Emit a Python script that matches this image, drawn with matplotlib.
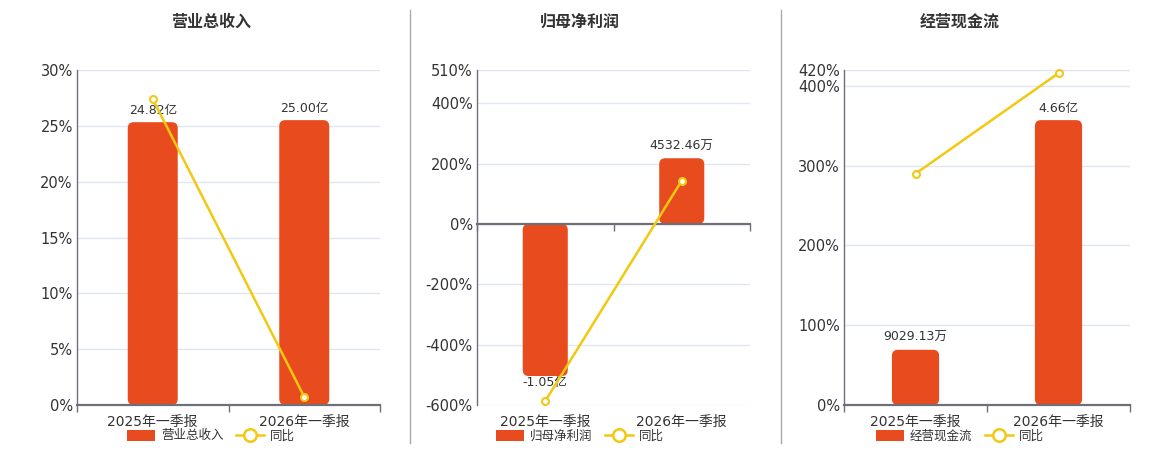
import numpy as np
import matplotlib.pyplot as plt
from matplotlib.patches import FancyBboxPatch, Patch
from matplotlib.lines import Line2D

plt.rcParams['font.family'] = ['DejaVu Sans', 'Noto Sans CJK SC']

categories = ['2025年一季报', '2026年一季报']

titles = ['营业总收入', '归母净利润', '经营现金流']

# 金额 (亿) 与 同比 (%)
revenue = [24.82, 25.00]
revenue_labels = ['24.82亿', '25.00亿']
revenue_yoy = [27.4, 0.73]

profit = [-1.05, 0.453246]
profit_labels = ['-1.05亿', '4532.46万']
profit_yoy = [-587, 143.2]

cashflow = [0.902913, 4.66]
cashflow_labels = ['9029.13万', '4.66亿']
cashflow_yoy = [290, 416]

pct_ticks = [
    [0, 5, 10, 15, 20, 25, 30],
    [-600, -400, -200, 0, 200, 400, 510],
    [0, 100, 200, 300, 400, 420],
]
pct_lims = [(0, 30), (-600, 510), (0, 420)]
amt_lims = [(0, 29.4), (-1.25, 1.0625), (0, 5.48)]

BAR = '#E84C1E'
LINE = '#F2C811'
AXIS = '#6E7079'
GRID = '#E0E6F1'
TXT = '#333333'

W, H = 1160, 450
fig = plt.figure(figsize=(W / 100, H / 100), dpi=100)

boxes = [(77, 303), (477, 273), (844, 286)]
centers = [211, 580, 960]

series = [
    (revenue, revenue_labels, revenue_yoy),
    (profit, profit_labels, profit_yoy),
    (cashflow, cashflow_labels, cashflow_yoy),
]

x = np.arange(len(categories))

for i, (left, width) in enumerate(boxes):
    vals, labs, yoy = series[i]
    rect = [left / W, 1 - 405 / H, width / W, 335 / H]
    ax = fig.add_axes(rect)
    ax2 = fig.add_axes(rect)
    ax2.patch.set_visible(False)

    ax.set_xlim(-0.5, 1.5)
    ax2.set_xlim(-0.5, 1.5)
    ax.set_ylim(*pct_lims[i])
    ax2.set_ylim(*amt_lims[i])

    ax.set_yticks(pct_ticks[i])
    ax.set_yticklabels(['%d%%' % t for t in pct_ticks[i]])
    ax.tick_params(axis='y', length=0, labelsize=10.5, labelcolor=TXT, pad=3)
    ax.grid(axis='y', color=GRID, lw=1)
    ax.set_axisbelow(True)
    ax.set_xticks(x)
    ax.set_xticklabels(categories)
    ax.tick_params(axis='x', length=0, labelsize=10, labelcolor=TXT, pad=7)
    for s in ['top', 'right', 'bottom']:
        ax.spines[s].set_visible(False)
    ax.spines['left'].set_color(AXIS)
    ax.spines['left'].set_linewidth(1)

    # bottom axis line at zero on the amount axis
    for s in ['top', 'right', 'left']:
        ax2.spines[s].set_visible(False)
    ax2.spines['bottom'].set_position(('data', 0))
    ax2.spines['bottom'].set_color(AXIS)
    ax2.spines['bottom'].set_linewidth(1.6)
    ax2.set_yticks([])
    ax2.set_xticks([-0.5, 0.5, 1.5])
    ax2.tick_params(axis='x', length=5, width=1, color=AXIS, labelbottom=False)

    bars = ax2.bar(x, vals, width=0.33, color=BAR)
    fig.canvas.draw()
    px = ax2.transData.transform([[0, 0], [1, 1]])
    dx = 1 / (px[1, 0] - px[0, 0])
    dy = 1 / (px[1, 1] - px[0, 1])
    for r in bars:
        r.set_visible(False)
        y0 = min(r.get_y(), r.get_y() + r.get_height())
        fb = FancyBboxPatch((r.get_x(), y0), r.get_width(), abs(r.get_height()),
                            boxstyle='round,pad=0,rounding_size=%f' % (6 * dx),
                            mutation_aspect=dy / dx, fc=BAR, ec='none', zorder=2)
        ax2.add_patch(fb)

    for xi, v, lab in zip(x, vals, labs):
        if v >= 0:
            ax2.annotate(lab, (xi, v), xytext=(0, 4), textcoords='offset points',
                         ha='center', va='bottom', fontsize=9, color=TXT, zorder=3)
        else:
            ax2.annotate(lab, (xi, v), xytext=(0, 0), textcoords='offset points',
                         ha='center', va='top', fontsize=9, color=TXT, zorder=3)

    ax2.plot(x, yoy, color=LINE, lw=1.8, marker='o', ms=5, mfc='white', mec=LINE,
             mew=1.5, transform=ax.transData, zorder=4, clip_on=False)

    fig.text(centers[i] / W, 1 - 22 / H, titles[i], ha='center', va='center',
             fontsize=11.5, fontweight='bold', color=TXT)

    handles = [Patch(fc=BAR, ec='none'),
               Line2D([], [], color=LINE, lw=1.8, marker='o', ms=9, mfc='white',
                      mec=LINE, mew=1.8)]
    fig.legend(handles, [titles[i], '同比'], loc='center',
               bbox_to_anchor=(centers[i] / W, 1 - 436 / H), ncol=2, frameon=False,
               fontsize=9, labelcolor=TXT, handlelength=2.2, handleheight=1.0,
               columnspacing=1.0, handletextpad=0.5)

for xs in [410, 781]:
    fig.add_artist(Line2D([xs / W, xs / W], [1 - 443 / H, 1 - 10 / H],
                          color='#AAAAAA', lw=1))

fig.savefig('out.png', dpi=100)
